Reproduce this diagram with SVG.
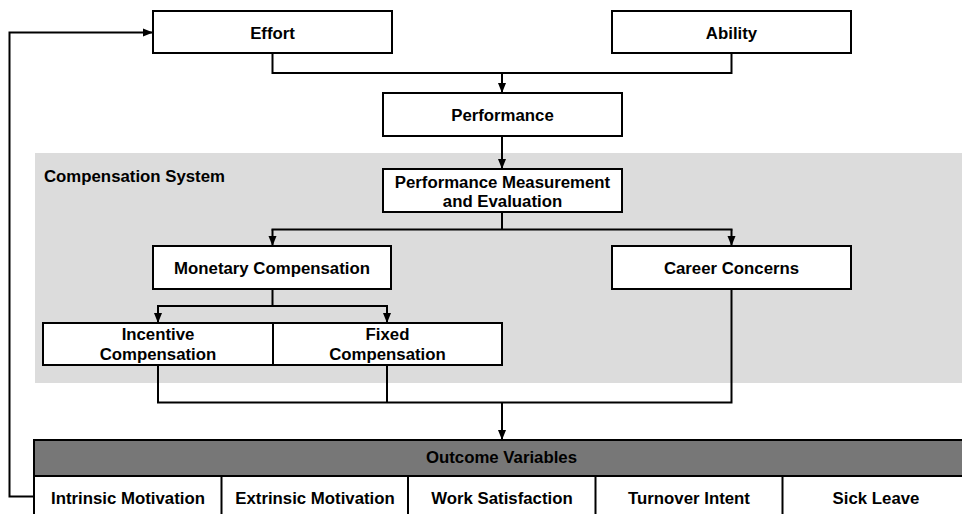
<svg xmlns="http://www.w3.org/2000/svg" width="962" height="514" viewBox="0 0 962 514">
  <style>
    .box { fill: #ffffff; stroke: #000000; stroke-width: 2; }
    .lbl { font-family: "Liberation Sans", Arial, sans-serif; font-weight: bold; font-size: 16.8px; fill: #000000; text-anchor: middle; }
    .wire { fill: none; stroke: #000000; stroke-width: 2; }
    .arr { marker-end: url(#head); }
  </style>
  <defs>
    <marker id="head" markerUnits="userSpaceOnUse" markerWidth="10" markerHeight="10" viewBox="0 0 10 10" refX="10" refY="5" orient="auto">
      <path d="M0,1 L10,5 L0,9 Z" fill="#000000"/>
    </marker>
  </defs>

  <!-- background panel for the compensation system -->
  <g id="compensation-system">
    <rect x="35" y="153" width="927" height="230" fill="#dcdcdc"/>
    <text class="lbl" x="44" y="182" style="text-anchor:start">Compensation System</text>
  </g>

  <g id="connectors">
    <!-- Effort + Ability -> Performance -->
    <path class="wire" d="M272.5,53 V73 H731.5 V53"/>
    <path class="wire arr" d="M502,73 V93"/>
    <!-- Performance -> Measurement -->
    <path class="wire arr" d="M502,136 V169"/>
    <!-- Measurement -> Monetary / Career -->
    <path class="wire" d="M502,212 V229.5"/>
    <path class="wire arr" d="M272.5,229.5 V246"/>
    <path class="wire arr" d="M731.5,229.5 V246"/>
    <path class="wire" d="M271.5,229.5 H732.5"/>
    <!-- Monetary -> Incentive / Fixed -->
    <path class="wire" d="M272.5,289 V306"/>
    <path class="wire" d="M157,306 H388"/>
    <path class="wire arr" d="M158,306 V323"/>
    <path class="wire arr" d="M387,306 V323"/>
    <!-- compensation -> outcomes -->
    <path class="wire" d="M158,365 V402.5 H731.5 V289"/>
    <path class="wire" d="M387,365 V402.5"/>
    <path class="wire arr" d="M502,402.5 V440"/>
    <!-- feedback from outcomes to effort -->
    <path class="wire arr" d="M34,496.5 H9.5 V32.5 H153"/>
  </g>

  <g id="effort">
    <rect class="box" x="153" y="11" width="239" height="42"/>
    <text class="lbl" x="272.5" y="38.5">Effort</text>
  </g>
  <g id="ability">
    <rect class="box" x="612" y="11" width="239" height="42"/>
    <text class="lbl" x="731.5" y="38.5">Ability</text>
  </g>
  <g id="performance">
    <rect class="box" x="383" y="93" width="239" height="43"/>
    <text class="lbl" x="502.5" y="120.5">Performance</text>
  </g>
  <g id="measurement">
    <rect class="box" x="383" y="169" width="239" height="43"/>
    <text class="lbl" x="502.5" y="188">Performance Measurement</text>
    <text class="lbl" x="502.5" y="207">and Evaluation</text>
  </g>
  <g id="monetary">
    <rect class="box" x="153" y="246" width="238" height="43"/>
    <text class="lbl" x="272" y="273.5">Monetary Compensation</text>
  </g>
  <g id="career">
    <rect class="box" x="612" y="246" width="239" height="43"/>
    <text class="lbl" x="731.5" y="273.5">Career Concerns</text>
  </g>
  <g id="incentive">
    <rect class="box" x="43" y="323" width="230" height="42"/>
    <text class="lbl" x="158" y="339.5">Incentive</text>
    <text class="lbl" x="158" y="359.5">Compensation</text>
  </g>
  <g id="fixed">
    <rect class="box" x="273" y="323" width="229" height="42"/>
    <text class="lbl" x="387.5" y="339.5">Fixed</text>
    <text class="lbl" x="387.5" y="359.5">Compensation</text>
  </g>

  <g id="outcomes">
    <rect x="34" y="440" width="935" height="36" fill="#777777" stroke="#000000" stroke-width="2"/>
    <text class="lbl" x="501.5" y="463">Outcome Variables</text>
    <rect class="box" x="34" y="476" width="935" height="50"/>
    <path class="wire" d="M221.5,476 V520 M408,476 V520 M595.5,476 V520 M782.5,476 V520"/>
    <text class="lbl" x="128" y="504">Intrinsic Motivation</text>
    <text class="lbl" x="315" y="504">Extrinsic Motivation</text>
    <text class="lbl" x="502" y="504">Work Satisfaction</text>
    <text class="lbl" x="689" y="504">Turnover Intent</text>
    <text class="lbl" x="876" y="504">Sick Leave</text>
  </g>
</svg>
